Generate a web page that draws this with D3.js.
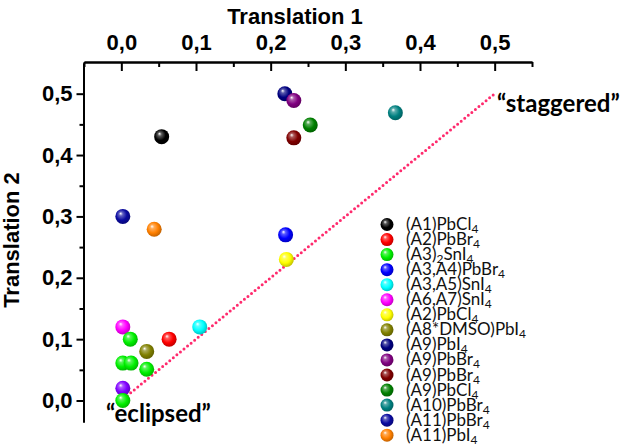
<!DOCTYPE html>
<html><head><meta charset="utf-8">
<script src="https://cdn.jsdelivr.net/npm/d3@7/dist/d3.min.js"></script>
<style>body{margin:0;background:#fff}svg{display:block}</style>
</head><body><svg id="c" width="625" height="446"></svg>
<script>
// ---- data ----
const xTicks = [0, 0.1, 0.2, 0.3, 0.4, 0.5];
const yTicks = [0, 0.1, 0.2, 0.3, 0.4, 0.5];
const xMinorTicks = [-0.05, 0.05, 0.15, 0.25, 0.35, 0.45, 0.55];
const yMinorTicks = [0.05, 0.15, 0.25, 0.35, 0.45];
const seriesNames = ["(A1)PbCl_4","(A2)PbBr_4","(A3)_2SnI_4","(A3,A4)PbBr_4","(A3,A5)SnI_4","(A6,A7)SnI_4","(A2)PbCl_4","(A8*DMSO)PbI_4","(A9)PbI_4","(A9)PbBr_4","(A9)PbBr_4","(A9)PbCl_4","(A10)PbBr_4","(A11)PbBr_4","(A11)PbI_4"];
const seriesColors = ["#000000","#ff0000","#00f000","#0000ff","#00ffff","#ff00ff","#ffff00","#808000","#000080","#800080","#800000","#008000","#008080","#0a0aa0","#ff8000"];
const seriesX = [[0.054],[0.064],[0.012,0.002,0.013,0.034,0.002],[0.22],[0.105],[0.002],[0.221],[0.034],[0.219],[0.231],[0.231],[0.253],[0.367],[0.002],[0.044]];
const seriesY = [[0.43],[0.10],[0.10,0.061,0.061,0.051,0.0],[0.27],[0.12],[0.12],[0.23],[0.08],[0.50],[0.489],[0.428],[0.449],[0.469],[0.30],[0.279]];
const extraX = [0.002], extraY = [0.02], extraColor = "#8000ff";
const diagX = [0.003, 0.5], diagY = [0.003, 0.5];
const annotations = ["\u201cstaggered\u201d", "\u201ceclipsed\u201d"];
const axisTitles = ["Translation 1", "Translation 2"];

// ---- drawing ----
const svg = d3.select("#c");
const x = d3.scaleLinear([-0.05, 0.55], [84, 532]);
const y = d3.scaleLinear([-0.035, 0.55], [422, 63]);
const fmt = v => d3.format(".1f")(v).replace(".", ",");
const defs = svg.append("defs");
const allColors = seriesColors.concat([extraColor]);
allColors.forEach((c, i) => {
  const g = defs.append("radialGradient").attr("id", "g" + i)
    .attr("cx", "0.45").attr("cy", "0.45").attr("r", "0.6").attr("fx", "0.35").attr("fy", "0.3");
  const base = d3.color(c);
  g.append("stop").attr("offset", "0%").attr("stop-color", "#ffffff");
  g.append("stop").attr("offset", "22%").attr("stop-color", d3.interpolateRgb(c, "#fff")(0.35));
  g.append("stop").attr("offset", "60%").attr("stop-color", c);
  g.append("stop").attr("offset", "100%").attr("stop-color", base.darker(0.9).formatHex());
});

// axes
const axFont = "'Liberation Sans', Arial, sans-serif";
svg.append("g").attr("transform", `translate(0,62)`)
  .call(d3.axisTop(x).tickValues(xTicks).tickSize(-9).tickSizeOuter(0).tickPadding(12).tickFormat(fmt));
svg.append("g").attr("transform", `translate(0,62)`)
  .call(d3.axisTop(x).tickValues(xMinorTicks).tickSize(-5).tickSizeOuter(0).tickFormat(""));
svg.append("g").attr("transform", `translate(83.5,0)`)
  .call(d3.axisLeft(y).tickValues(yTicks).tickSize(7).tickSizeOuter(0).tickPadding(4).tickFormat(fmt));
svg.append("g").attr("transform", `translate(83.5,0)`)
  .call(d3.axisLeft(y).tickValues(yMinorTicks).tickSize(4).tickSizeOuter(0).tickFormat(""));
svg.selectAll(".domain, .tick line").attr("stroke", "#000").attr("stroke-width", 2);
svg.selectAll(".tick text").attr("font-family", axFont).attr("font-weight", "bold").attr("font-size", 22).attr("fill", "#000");

svg.append("text").attr("x", 295).attr("y", 24).attr("text-anchor", "middle")
  .attr("font-family", axFont).attr("font-weight", "bold").attr("font-size", 22).text(axisTitles[0]);
svg.append("text").attr("transform", "translate(19,240) rotate(-90)").attr("text-anchor", "middle")
  .attr("font-family", axFont).attr("font-weight", "bold").attr("font-size", 22).text(axisTitles[1]);

// diagonal dotted line
svg.append("line").attr("x1", x(diagX[0])).attr("y1", y(diagY[0])).attr("x2", x(diagX[1])).attr("y2", y(diagY[1]))
  .attr("stroke", "#ff2a6d").attr("stroke-width", 3).attr("stroke-linecap", "round").attr("stroke-dasharray", "0 4.6");

// points
function ball(sel, cx, cy, r, gi) {
  sel.append("circle").attr("cx", cx).attr("cy", cy).attr("r", r).attr("fill", `url(#g${gi})`);
}
const pts = svg.append("g");
seriesX.forEach((xs, i) => {
  if (i === 2) return;
  xs.forEach((v, j) => ball(pts, x(v), y(seriesY[i][j]), 7.5, i));
});
extraX.forEach((v, j) => ball(pts, x(v), y(extraY[j]), 7.5, seriesColors.length));
seriesX[2].forEach((v, j) => ball(pts, x(v), y(seriesY[2][j]), 7.5, 2));

// annotations
const annFont = "Lato, 'Open Sans', sans-serif";
svg.append("text").attr("x", 497).attr("y", 112).attr("font-family", annFont).attr("font-weight", "bold").attr("font-size", 24).text(annotations[0]);
svg.append("text").attr("x", 106).attr("y", 422).attr("font-family", annFont).attr("font-weight", "bold").attr("font-size", 24).text(annotations[1]);

// legend
const lg = svg.append("g");
seriesNames.forEach((name, i) => {
  const cy = 224.5 + i * 15.05;
  ball(lg, 387, cy, 6.5, i);
  const t = lg.append("text").attr("x", 406).attr("y", cy + 5.5).attr("font-family", annFont).attr("font-size", 17).attr("fill", "#111");
  const parts = name.split("_");
  parts.forEach((p, k) => {
    if (k === 0) { t.append("tspan").text(p); return; }
    t.append("tspan").attr("dy", 3).attr("font-size", 12).text(p[0]);
    if (p.length > 1) t.append("tspan").attr("dy", -3).text(p.slice(1));
  });
});
</script></body></html>
